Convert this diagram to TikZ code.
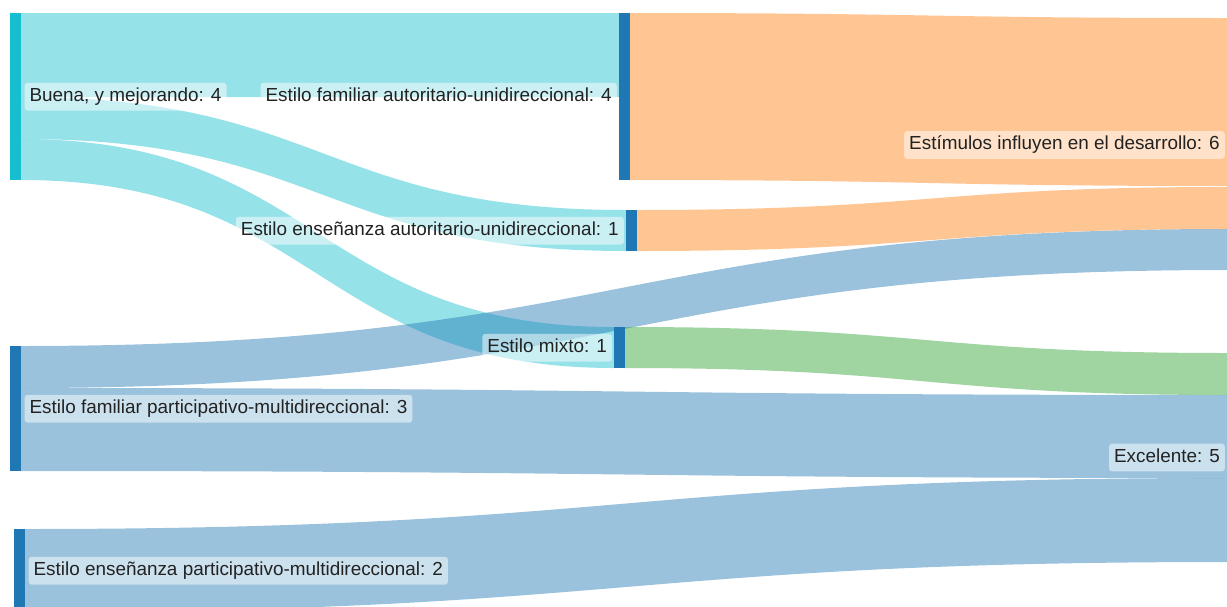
\documentclass[tikz,border=0pt]{standalone}
\usepackage{fontspec}
\setmainfont{Liberation Sans}
\definecolor{cyanN}{HTML}{17BECF}
\definecolor{blueN}{HTML}{1F77B4}
\definecolor{orangeL}{HTML}{FF7F0E}
\definecolor{greenL}{HTML}{2CA02C}
\definecolor{txt}{HTML}{222222}
\newcommand\ribbon[7]{%
  \fill[#7, fill opacity=0.45] (#1,#2) .. controls ({(#1+#4)/2},#2) and ({(#1+#4)/2},#5) .. (#4,#5) -- (#4,#6) .. controls ({(#1+#4)/2},#6) and ({(#1+#4)/2},#3) .. (#1,#3) -- cycle;}
\tikzset{
  bar/.style={draw=none, inner sep=0pt, minimum width=11pt},
  lbl/.style={fill=white, fill opacity=0.5, text opacity=1, text=txt, rounded corners=3pt,
    inner xsep=5pt, inner ysep=5pt, text height=13.8pt, text depth=4pt,
    font=\fontsize{18.9}{22}\selectfont}
}
\begin{document}
\begin{tikzpicture}[x=1pt,y=-1pt]
\useasboundingbox (0,0) rectangle (1227,606);
% links
\ribbon{21}{13}{97}{619}{13}{97}{cyanN}
\ribbon{21}{97}{139}{626}{210}{251}{cyanN}
\ribbon{21}{139}{180}{614}{327}{368}{cyanN}
\ribbon{21}{346}{388}{1227}{229}{270}{blueN}
\ribbon{21}{388}{471}{1227}{395}{478}{blueN}
\ribbon{25}{529}{612}{1227}{478}{562}{blueN}
\ribbon{630}{13}{180}{1227}{18}{186}{orangeL}
\ribbon{637}{210}{251}{1227}{187}{229}{orangeL}
\ribbon{625}{327}{368}{1227}{353}{395}{greenL}
% nodes
\node[bar, fill=cyanN, minimum height=167pt, anchor=north west] (buena) at (10,13) {};
\node[bar, fill=blueN, minimum height=125pt, anchor=north west] (fampart) at (10,346) {};
\node[bar, fill=blueN, minimum height=83pt, anchor=north west] (enspart) at (14,529) {};
\node[bar, fill=blueN, minimum height=167pt, anchor=north west] (famauto) at (619,13) {};
\node[bar, fill=blueN, minimum height=41pt, anchor=north west] (ensauto) at (626,210) {};
\node[bar, fill=blueN, minimum height=41pt, anchor=north west] (mixto) at (614,327) {};
\coordinate (estim) at (1227,145);
\coordinate (excel) at (1227,457.5);
% labels
\node[lbl, anchor=west] (lbuena) at ([xshift=3pt]buena.east) {Buena, y mejorando: 4};
\node[lbl, anchor=west] (lfampart) at ([xshift=3pt]fampart.east) {Estilo familiar participativo-multidireccional: 3};
\node[lbl, anchor=west] (lenspart) at ([xshift=3pt]enspart.east) {Estilo enseñanza participativo-multidireccional: 2};
\node[lbl, anchor=east] (lfamauto) at ([xshift=-2pt]famauto.west) {Estilo familiar autoritario-unidireccional: 4};
\node[lbl, anchor=east] (lensauto) at ([xshift=-2pt]ensauto.west) {Estilo enseñanza autoritario-unidireccional: 1};
\node[lbl, anchor=east] (lmixto) at ([xshift=-2pt]mixto.west) {Estilo mixto: 1};
\node[lbl, anchor=east] (lestim) at ([xshift=-2pt]estim) {Estímulos influyen en el desarrollo: 6};
\node[lbl, anchor=east] (lexcel) at ([xshift=-2pt]excel) {Excelente: 5};
\end{tikzpicture}
\end{document}
